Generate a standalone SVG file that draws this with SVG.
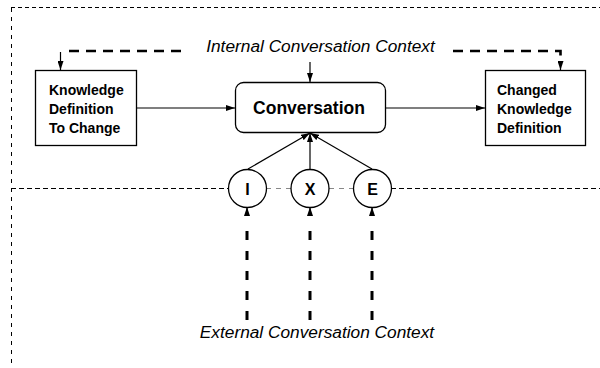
<svg xmlns="http://www.w3.org/2000/svg" width="600" height="368" viewBox="0 0 600 368">
<style>
.box{fill:#fff;stroke:#000;stroke-width:1.3}
.lbl{font-family:"Liberation Sans",Arial,sans-serif;font-weight:bold;font-size:14px;fill:#000}
.big{font-size:17.5px;text-anchor:middle}
.let{font-size:16px;text-anchor:middle}
.ctx{font-family:"Liberation Sans",Arial,sans-serif;font-style:italic;font-size:17.3px;fill:#000;text-anchor:middle}
.arr{fill:none;stroke:#000;stroke-width:1.2}
.thick{fill:none;stroke:#000;stroke-width:2.6;stroke-dasharray:10 7}
.vthick{fill:none;stroke:#000;stroke-width:3;stroke-dasharray:9 11}
.border{fill:none;stroke:#000;stroke-width:1}
</style>
<defs>
<marker id="ah" viewBox="0 0 9 6" refX="9" refY="3" markerWidth="9" markerHeight="6" markerUnits="userSpaceOnUse" orient="auto">
<path d="M0,0 L9,3 L0,6 z" fill="#000"/>
</marker>
</defs>
<g id="borders">
<line class="border" x1="11" y1="7.5" x2="600" y2="7.5" stroke-dasharray="4 3"/>
<line class="border" x1="11.5" y1="8" x2="11.5" y2="368" stroke-dasharray="4 5"/>
<line class="border" x1="11" y1="188.5" x2="228" y2="188.5" stroke-dasharray="5 3"/>
<line class="border" x1="391" y1="188.5" x2="600" y2="188.5" stroke-dasharray="5 3"/>
<line x1="266" y1="188.5" x2="291" y2="188.5" stroke="#888" stroke-width="1" stroke-dasharray="5 5"/>
<line x1="329" y1="188.5" x2="353" y2="188.5" stroke="#888" stroke-width="1" stroke-dasharray="5 5"/>
</g>
<g id="connectors">
<line class="arr" x1="136" y1="108" x2="235" y2="108" marker-end="url(#ah)"/>
<line class="arr" x1="385" y1="108" x2="485" y2="108" marker-end="url(#ah)"/>
<line class="arr" x1="310" y1="62" x2="310" y2="82" marker-end="url(#ah)"/>
<line class="arr" x1="248" y1="169" x2="310" y2="133" marker-end="url(#ah)"/>
<line class="arr" x1="310" y1="169" x2="310" y2="133" marker-end="url(#ah)"/>
<line class="arr" x1="372" y1="169" x2="310" y2="133" marker-end="url(#ah)"/>
<line class="thick" x1="69" y1="51" x2="181" y2="51"/>
<line class="arr" stroke-width="2" x1="60.5" y1="52" x2="60.5" y2="70" marker-end="url(#ah)"/>
<path class="thick" d="M453,51 H560.5 V56"/>
<line class="arr" stroke-width="2" x1="560.5" y1="61" x2="560.5" y2="70" marker-end="url(#ah)"/>
<line class="vthick" x1="247" y1="320" x2="247" y2="222"/>
<line class="arr" stroke-width="2" x1="247" y1="216" x2="247" y2="207" marker-end="url(#ah)"/>
<line class="vthick" x1="310" y1="320" x2="310" y2="222"/>
<line class="arr" stroke-width="2" x1="310" y1="216" x2="310" y2="207" marker-end="url(#ah)"/>
<line class="vthick" x1="372" y1="320" x2="372" y2="222"/>
<line class="arr" stroke-width="2" x1="372" y1="216" x2="372" y2="207" marker-end="url(#ah)"/>
</g>
<g id="internal-context">
<text class="ctx" x="320.5" y="52">Internal Conversation Context</text>
</g>
<g id="external-context">
<text class="ctx" x="317" y="338">External Conversation Context</text>
</g>
<g id="knowledge-to-change">
<rect class="box" x="35.5" y="70.5" width="101" height="75"/>
<text class="lbl" x="49" y="95">Knowledge</text>
<text class="lbl" x="49" y="114">Definition</text>
<text class="lbl" x="49" y="133">To Change</text>
</g>
<g id="conversation">
<rect class="box" x="235.5" y="82.5" width="150" height="50" rx="8" ry="8"/>
<text class="lbl big" x="309" y="114">Conversation</text>
</g>
<g id="changed-knowledge">
<rect class="box" x="485.5" y="70.5" width="100" height="75"/>
<text class="lbl" x="497" y="95">Changed</text>
<text class="lbl" x="497" y="114">Knowledge</text>
<text class="lbl" x="497" y="133">Definition</text>
</g>
<g id="node-I">
<circle class="box" cx="247.5" cy="188.5" r="19"/>
<text class="lbl let" x="247.5" y="194.5">I</text>
</g>
<g id="node-X">
<circle class="box" cx="310" cy="188.5" r="19"/>
<text class="lbl let" x="310" y="194.5">X</text>
</g>
<g id="node-E">
<circle class="box" cx="372.5" cy="188.5" r="19"/>
<text class="lbl let" x="372.5" y="194.5">E</text>
</g>
</svg>
